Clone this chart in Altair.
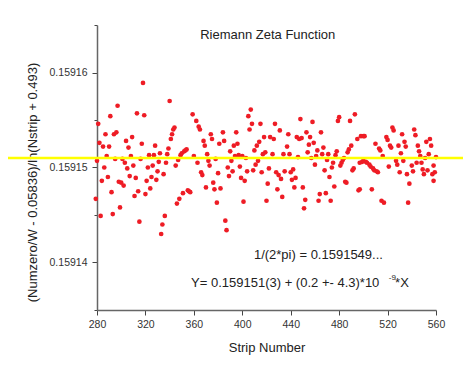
import altair as alt
import pandas as pd

# ---- data ----
strip = [
    279, 280, 281, 282, 283, 284, 285, 286, 287, 288, 289, 290, 291, 292, 293, 294, 295, 296, 297, 298,
    299, 300, 301, 302, 303, 304, 305, 306, 307, 308, 309, 310, 311, 312, 313, 314, 315, 316, 317, 318,
    319, 320, 321, 322, 323, 324, 325, 326, 327, 328, 329, 330, 331, 332, 333, 334, 335, 336, 337, 338,
    339, 340, 341, 342, 343, 344, 345, 346, 347, 348, 349, 350, 351, 352,
    353, 354, 355, 356, 357, 359, 360, 362, 363, 364, 365, 366, 367, 368, 369, 370, 371, 372, 373, 374,
    375, 376, 377, 378, 379, 380, 381, 382, 384, 385, 386, 387, 388, 389, 390, 391, 392, 393, 394, 395,
    396, 397, 398, 399, 400, 401, 402, 403, 404, 405, 406, 407, 408, 409, 410, 411, 412, 413, 414, 415,
    416, 417, 418, 419, 420, 421, 422, 423,
    425, 426, 427, 428, 429, 430, 431, 432, 433, 434, 435, 437, 438, 439, 440, 441, 442, 443, 444, 445,
    446, 447, 448, 449, 450, 451, 452, 453, 454, 455, 456, 457, 458, 459, 460, 461, 462, 463, 464, 465,
    466, 467, 468, 469, 470, 471, 472, 473, 474, 475, 476, 477, 478, 479, 480, 481, 482, 483, 484, 485,
    486, 487, 488, 489, 490, 491, 492, 493,
    495, 496, 497, 497, 498, 499, 500, 500, 501, 502, 503, 505, 506, 507, 508, 509, 510, 511, 512, 513,
    514, 515, 516, 517, 519, 520, 521, 522, 523, 524, 525, 527, 528, 529, 530, 531, 532, 533, 534, 535,
    536, 537, 538, 540, 541, 542, 543, 544, 545, 546, 547, 548, 549, 550, 551, 552, 553, 554, 555, 556,
    557, 558, 558, 559, 560,
]
value = [
    0.1591467, 0.1591507, 0.1591546, 0.1591526, 0.1591449, 0.1591486, 0.1591522, 0.1591500, 0.1591535, 0.1591512,
    0.1591490, 0.1591522, 0.1591554, 0.1591474, 0.1591451, 0.1591535, 0.1591509, 0.1591537, 0.1591565, 0.1591485,
    0.1591458, 0.1591484, 0.1591509, 0.1591481, 0.1591505, 0.1591528, 0.1591499, 0.1591521, 0.1591491, 0.1591512,
    0.1591532, 0.1591502, 0.1591470, 0.1591489, 0.1591557, 0.1591475, 0.1591443, 0.1591509, 0.1591525, 0.1591589,
    0.1591555, 0.1591472, 0.1591486, 0.1591500, 0.1591513, 0.1591478, 0.1591490, 0.1591502, 0.1591513, 0.1591523,
    0.1591487, 0.1591496, 0.1591506, 0.1591515, 0.1591430, 0.1591440, 0.1591493, 0.1591449, 0.1591505, 0.1591514,
    0.1591520, 0.1591570, 0.1591530, 0.1591535, 0.1591540, 0.1591542, 0.1591502, 0.1591462, 0.1591508, 0.1591467,
    0.1591513, 0.1591515, 0.1591473, 0.1591517,
    0.1591518, 0.1591519, 0.1591476, 0.1591475, 0.1591474, 0.1591556, 0.1591512, 0.1591549, 0.1591505, 0.1591543,
    0.1591540, 0.1591495, 0.1591492, 0.1591528, 0.1591523, 0.1591479, 0.1591514, 0.1591507, 0.1591502, 0.1591535,
    0.1591530, 0.1591484, 0.1591477, 0.1591509, 0.1591463, 0.1591494, 0.1591525, 0.1591478, 0.1591537, 0.1591528,
    0.1591444, 0.1591434, 0.1591500, 0.1591491, 0.1591517, 0.1591507, 0.1591496, 0.1591523, 0.1591512, 0.1591537,
    0.1591525, 0.1591513, 0.1591501, 0.1591489, 0.1591512, 0.1591464, 0.1591486, 0.1591510, 0.1591496, 0.1591554,
    0.1591540, 0.1591561, 0.1591546, 0.1591497, 0.1591518, 0.1591503, 0.1591523, 0.1591507, 0.1591527, 0.1591546,
    0.1591495, 0.1591514, 0.1591532, 0.1591516, 0.1591465, 0.1591483, 0.1591499, 0.1591532,
    0.1591514, 0.1591530, 0.1591546, 0.1591495, 0.1591477, 0.1591492, 0.1591539, 0.1591488, 0.1591469, 0.1591514,
    0.1591496, 0.1591522, 0.1591535, 0.1591514, 0.1591495, 0.1591487, 0.1591498, 0.1591479, 0.1591489, 0.1591532,
    0.1591511, 0.1591530, 0.1591551, 0.1591531, 0.1591479, 0.1591457, 0.1591466, 0.1591537, 0.1591516, 0.1591524,
    0.1591532, 0.1591510, 0.1591548, 0.1591526, 0.1591503, 0.1591512, 0.1591518, 0.1591465, 0.1591472, 0.1591537,
    0.1591514, 0.1591521, 0.1591497, 0.1591473, 0.1591508, 0.1591514, 0.1591490, 0.1591465, 0.1591500, 0.1591505,
    0.1591480, 0.1591513, 0.1591517, 0.1591549, 0.1591553, 0.1591502, 0.1591505, 0.1591508, 0.1591510, 0.1591485,
    0.1591484, 0.1591516, 0.1591519, 0.1591549, 0.1591523, 0.1591497, 0.1591499, 0.1591556,
    0.1591530, 0.1591476, 0.1591477, 0.1591505, 0.1591533, 0.1591506, 0.1591533, 0.1591507, 0.1591533, 0.1591506,
    0.1591505, 0.1591503, 0.1591501, 0.1591477, 0.1591499, 0.1591497, 0.1591525, 0.1591496, 0.1591495, 0.1591520,
    0.1591518, 0.1591465, 0.1591512, 0.1591463, 0.1591532, 0.1591529, 0.1591501, 0.1591523, 0.1591521, 0.1591542,
    0.1591539, 0.1591507, 0.1591503, 0.1591523, 0.1591495, 0.1591515, 0.1591535, 0.1591507, 0.1591527, 0.1591522,
    0.1591493, 0.1591463, 0.1591483, 0.1591502, 0.1591496, 0.1591540, 0.1591534, 0.1591505, 0.1591523, 0.1591517,
    0.1591512, 0.1591505, 0.1591498, 0.1591493, 0.1591510, 0.1591527, 0.1591497, 0.1591514, 0.1591530, 0.1591523,
    0.1591493, 0.1591486, 0.1591502, 0.1591495, 0.1591511,
]
fit_value = [0.159151]

x_ticks = [280, 300, 320, 340, 360, 380, 400, 420, 440, 460, 480, 500, 520, 540, 560]
y_ticks = [0.159135, 0.15914, 0.159145, 0.15915, 0.159155, 0.15916, 0.159165]

ann_text = ["1/(2*pi) = 0.1591549...", "Y= 0.159151(3) + (0.2 +- 4.3)*10", "*X"]
ann_x = [409.6, 357.7, 526.2]
ann_y = [0.1591408, 0.1591378, 0.1591378]
sup_text = ["-9"]
sup_x = [521.0]
sup_y = [0.1591384]
title_text = ["Riemann Zeta Function"]
title_x = [421.0]
title_y = [0.1591639]

FONT = "Liberation Sans"

df = pd.DataFrame({"strip": strip, "value": value})
fit_df = pd.DataFrame({"fit": fit_value})
ann_df = pd.DataFrame({"x": ann_x, "y": ann_y, "t": ann_text})
sup_df = pd.DataFrame({"x": sup_x, "y": sup_y, "t": sup_text})
title_df = pd.DataFrame({"x": title_x, "y": title_y, "t": title_text})

x_scale = alt.Scale(domain=[280, 560], nice=False, zero=False)
y_scale = alt.Scale(domain=[0.159135, 0.159165], nice=False, zero=False)

x_axis = alt.Axis(
    values=x_ticks,
    title="Strip Number",
    labelExpr="datum.value % 40 == 0 ? datum.label : ''",
    tickSize={"condition": {"test": "datum.value % 40 == 0", "value": 5}, "value": 3},
    labelPadding=4,
    labelFlush=False,
    titleY=37,
    titleBaseline="middle",
    grid=False,
)
y_axis = alt.Axis(
    values=y_ticks,
    title="(Numzero/W - 0.05836)/ln(Nstrip + 0.493)",
    labelExpr="abs(datum.value*1e5 - round(datum.value*1e5)) < 0.1 ? format(datum.value, '.5f') : ''",
    tickSize={"condition": {"test": "abs(datum.value*1e5 - round(datum.value*1e5)) < 0.1", "value": 5}, "value": 3},
    labelPadding=5,
    labelFlush=False,
    titleX=-65,
    titleY=157,
    titleAngle=270,
    titleAlign="center",
    titleBaseline="middle",
    grid=False,
)

points = alt.Chart(df).mark_circle(size=22, color="#ee1c25", opacity=1).encode(
    x=alt.X("strip:Q", scale=x_scale, axis=x_axis),
    y=alt.Y("value:Q", scale=y_scale, axis=y_axis),
)

fit_line = alt.Chart(fit_df).mark_rule(color="#ffff00", strokeWidth=2.5).encode(
    y=alt.Y("fit:Q", scale=y_scale),
    x=alt.value(-89),
    x2=alt.value(366),
)

title = alt.Chart(title_df).mark_text(font=FONT, fontSize=13, color="#222222", align="center", baseline="middle").encode(
    x=alt.X("x:Q", scale=x_scale), y=alt.Y("y:Q", scale=y_scale), text="t:N"
)
ann = alt.Chart(ann_df).mark_text(font=FONT, fontSize=13, color="#222222", align="left", baseline="middle").encode(
    x=alt.X("x:Q", scale=x_scale), y=alt.Y("y:Q", scale=y_scale), text="t:N"
)
sup = alt.Chart(sup_df).mark_text(font=FONT, fontSize=8, color="#222222", align="left", baseline="middle").encode(
    x=alt.X("x:Q", scale=x_scale), y=alt.Y("y:Q", scale=y_scale), text="t:N"
)

chart = alt.layer(points, fit_line, title, ann, sup).properties(
    width=339,
    height=285,
    autosize=alt.AutoSizeParams(type="none"),
    padding={"left": 89, "top": 17, "right": 27, "bottom": 64},
    background="white",
).configure_view(stroke=None).configure_axis(
    domainColor="#666666",
    domainWidth=1.5,
    tickColor="#444444",
    tickWidth=1,
    labelColor="#333333",
    labelFont=FONT,
    labelFontSize=10.5,
    titleFont=FONT,
    titleFontSize=13,
    titleFontWeight="normal",
    titleColor="#222222",
)

chart.save("out.html", embed_options={"renderer": "svg", "actions": False})
